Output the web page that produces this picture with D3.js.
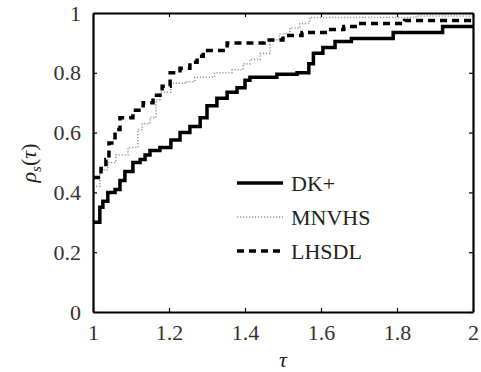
<!DOCTYPE html>
<html><head><meta charset="utf-8">
<script src="https://cdn.jsdelivr.net/npm/d3@7"></script>
<style>
body{margin:0;background:#fff}svg{display:block}
svg text, svg tspan{font-family:"Liberation Serif","DejaVu Serif",serif !important}
svg .tick text, svg .lab{font-size:22px !important}
</style>
</head><body>
<script>
const seriesNames = ["DK+", "MNVHS", "LHSDL"];
const dkTau = [1.000,1.018,1.026,1.039,1.058,1.071,1.084,1.105,1.124,1.137,1.150,1.176,1.205,1.229,1.255,1.282,1.300,1.326,1.353,1.379,1.400,1.413,1.484,1.537,1.568,1.580,1.605,1.637,1.680,1.790,1.920,2.000];
const dkRho = [0.30,0.35,0.37,0.40,0.41,0.44,0.47,0.50,0.51,0.525,0.54,0.55,0.575,0.60,0.62,0.65,0.69,0.715,0.735,0.75,0.775,0.785,0.795,0.80,0.83,0.865,0.885,0.905,0.915,0.935,0.955,0.955];
const mnTau = [1.000,1.018,1.039,1.060,1.092,1.118,1.130,1.150,1.166,1.176,1.205,1.242,1.268,1.320,1.366,1.395,1.413,1.440,1.466,1.490,1.518,1.545,1.570,1.850,2.000];
const mnRho = [0.42,0.475,0.50,0.525,0.55,0.61,0.63,0.65,0.71,0.735,0.765,0.77,0.785,0.80,0.81,0.83,0.845,0.865,0.91,0.93,0.95,0.965,0.985,0.99,0.99];
const lhTau = [1.000,1.021,1.034,1.042,1.058,1.071,1.105,1.132,1.158,1.182,1.203,1.229,1.255,1.274,1.290,1.353,1.450,1.500,1.550,1.620,1.660,1.700,1.820,2.000];
const lhRho = [0.45,0.48,0.51,0.565,0.61,0.65,0.675,0.70,0.725,0.755,0.80,0.815,0.835,0.855,0.875,0.90,0.91,0.925,0.935,0.945,0.955,0.965,0.975,0.975];
const xTicks = [1, 1.2, 1.4, 1.6, 1.8, 2];
const yTicks = [0, 0.2, 0.4, 0.6, 0.8, 1];

const W = 481, H = 372;
const svg = d3.select("body").append("svg").attr("width", W).attr("height", H);
const x = d3.scaleLinear().domain([1, 2]).range([93, 473]);
const y = d3.scaleLinear().domain([0, 1]).range([312, 13]);

const styles = [
  {stroke:"#000", width:3.5, dash:null},
  {stroke:"#9a9a9a", width:1.6, dash:"1.2,1.8"},
  {stroke:"#000", width:3.5, dash:"7,5"}
];
const data = [
  dkTau.map((t,i)=>[t, dkRho[i]]),
  mnTau.map((t,i)=>[t, mnRho[i]]),
  lhTau.map((t,i)=>[t, lhRho[i]])
];
const line = d3.line().x(d=>x(d[0])).y(d=>y(d[1])).curve(d3.curveStepAfter);
const g = svg.append("g");
g.append("clipPath").attr("id","clip").append("rect").attr("x",93).attr("y",11).attr("width",381).attr("height",302);
[1,2,0].forEach(i=>{
  g.append("path").datum(data[i]).attr("d", line).attr("fill","none")
   .attr("stroke", styles[i].stroke).attr("stroke-width", styles[i].width)
   .attr("stroke-dasharray", styles[i].dash).attr("clip-path","url(#clip)");
});

const axB = svg.append("g").attr("transform","translate(0,312)")
  .call(d3.axisBottom(x).tickValues(xTicks).tickFormat(d3.format("")).tickSizeInner(-4).tickSizeOuter(0).tickPadding(12));
const axT = svg.append("g").attr("transform","translate(0,13)")
  .call(d3.axisTop(x).tickValues(xTicks).tickFormat("").tickSizeInner(-4).tickSizeOuter(0));
const axL = svg.append("g").attr("transform","translate(93,0)")
  .call(d3.axisLeft(y).tickValues(yTicks).tickFormat(d3.format("")).tickSizeInner(-4).tickSizeOuter(0).tickPadding(12));
const axR = svg.append("g").attr("transform","translate(473,0)")
  .call(d3.axisRight(y).tickValues(yTicks).tickFormat("").tickSizeInner(-4).tickSizeOuter(0));
[axB,axT,axL,axR].forEach(a=>{
  a.attr("font-family", "Liberation Serif").attr("font-size", 22);
  a.select(".domain").attr("stroke","#000").attr("stroke-width",2.2);
  a.selectAll(".tick line").attr("stroke","#000").attr("stroke-width",1.2);
  a.selectAll("text").attr("fill","#333");
});

svg.append("text").attr("class","lab").attr("x",283).attr("y",367).attr("text-anchor","middle")
  .attr("font-style","italic").attr("fill","#222").style("font-size","24px").text("τ");
const yl = svg.append("text").attr("class","lab").attr("transform","translate(36,163) rotate(-90)").attr("text-anchor","middle")
  .attr("fill","#222");
yl.append("tspan").attr("font-style","italic").text("ρ");
yl.append("tspan").attr("font-style","italic").attr("font-size",15).style("font-size","15px").attr("dy",5).text("s");
yl.append("tspan").attr("dy",-5).text("(");
yl.append("tspan").attr("font-style","italic").text("τ");
yl.append("tspan").text(")");

const legY = [183, 217, 251];
seriesNames.forEach((n,i)=>{
  svg.append("line").attr("x1",237).attr("x2",283).attr("y1",legY[i]).attr("y2",legY[i])
    .attr("stroke",styles[i].stroke).attr("stroke-width",styles[i].width).attr("stroke-dasharray",styles[i].dash);
  svg.append("text").attr("class","lab").attr("x",291).attr("y",legY[i]+8)
    .attr("fill","#222").text(n);
});
</script>
</body></html>
